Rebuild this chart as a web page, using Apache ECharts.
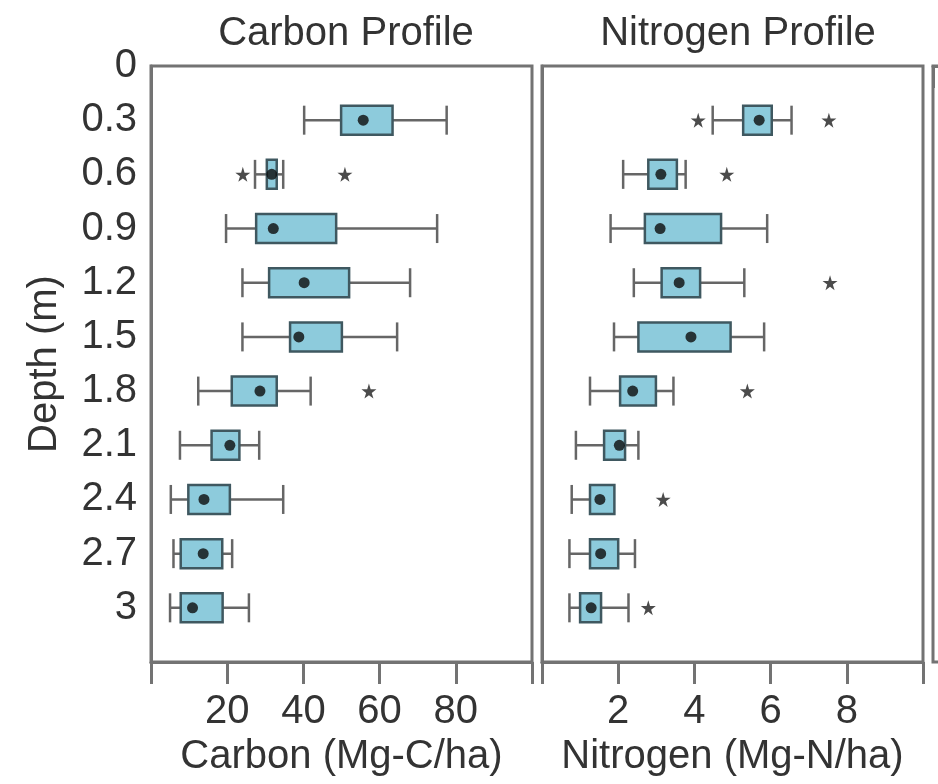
<!DOCTYPE html>
<html>
<head>
<meta charset="utf-8">
<script src="https://cdn.jsdelivr.net/npm/echarts@6/dist/echarts.min.js"></script>
<style>
html,body{margin:0;padding:0;background:#fff;}
#chart{width:938px;height:784px;}
</style>
</head>
<body>
<div id="chart"></div>
<script>
// ---- data ----
const depths = [0.3, 0.6, 0.9, 1.2, 1.5, 1.8, 2.1, 2.4, 2.7, 3.0];

const carbonLow  = [40.2, 27.3, 19.7, 24.0, 24.0, 12.4, 7.6, 5.2, 5.9, 5.0];
const carbonQ1   = [49.9, 30.4, 27.6, 31.0, 36.5, 21.2, 15.9, 9.8, 7.8, 7.8];
const carbonQ3   = [63.4, 33.0, 48.6, 52.0, 50.1, 33.0, 23.2, 20.7, 18.7, 18.8];
const carbonHigh = [77.6, 34.7, 75.1, 68.0, 64.6, 41.9, 28.4, 34.7, 21.3, 25.7];
const carbonDot  = [55.7, 31.7, 32.1, 40.2, 38.8, 28.6, 20.7, 13.9, 13.7, 10.9];
const carbonOutlierValue = [24.1, 50.9, 57.2];
const carbonOutlierDepth = [0.6, 0.6, 1.8];

const nitroLow  = [4.48, 2.13, 1.80, 2.41, 1.89, 1.26, 0.89, 0.78, 0.72, 0.72];
const nitroQ1   = [5.28, 2.79, 2.70, 3.14, 2.53, 2.05, 1.63, 1.26, 1.26, 1.00];
const nitroQ3   = [6.03, 3.54, 4.70, 4.15, 4.95, 2.99, 2.18, 1.90, 2.00, 1.55];
const nitroHigh = [6.55, 3.77, 5.91, 5.31, 5.83, 3.45, 2.53, 1.90, 2.44, 2.27];
const nitroDot  = [5.70, 3.12, 3.10, 3.60, 3.91, 2.38, 2.03, 1.52, 1.54, 1.29];
const nitroOutlierValue = [4.10, 7.53, 4.85, 7.56, 5.39, 3.18, 2.79];
const nitroOutlierDepth = [0.3, 0.3, 0.6, 1.2, 1.8, 2.4, 3.0];

const carbonTicks = ['20', '40', '60', '80'];
const nitroTicks = ['2', '4', '6', '8'];
const yLabels = ['0', '0.3', '0.6', '0.9', '1.2', '1.5', '1.8', '2.1', '2.4', '2.7', '3'];

// ---- styles ----
const FONT = "'Liberation Sans', Arial, Helvetica, sans-serif";
const TXT = '#333333';
const AX = '#737373';
const BOX_FILL = '#8dcbdc';
const BOX_LINE = '#3f5860';
const WHISK = '#666666';
const STAR = 'path://M50,0 L61,35 L98,35 L68,57 L79,91 L50,70 L21,91 L32,57 L2,35 L39,35 Z';

function boxData(lo, q1, q3, hi) {
  return depths.map((d, i) => [lo[i], q1[i], q3[i], hi[i], d]);
}
function pairs(vals, ds) {
  return vals.map((v, i) => [v, ds[i]]);
}

function renderBox(params, api) {
  const d = api.value(4);
  const pLo = api.coord([api.value(0), d]);
  const pQ1 = api.coord([api.value(1), d]);
  const pQ3 = api.coord([api.value(2), d]);
  const pHi = api.coord([api.value(3), d]);
  const hh = 14.5;
  const y = pLo[1];
  const lineStyle = {stroke: WHISK, lineWidth: 2.5, fill: null};
  const children = [
    {type: 'line', shape: {x1: pLo[0], y1: y, x2: pHi[0], y2: y}, style: lineStyle},
    {type: 'line', shape: {x1: pLo[0], y1: y - hh, x2: pLo[0], y2: y + hh}, style: lineStyle},
  ];
  if (pHi[0] - pQ3[0] > 1) {
    children.push({type: 'line', shape: {x1: pHi[0], y1: y - hh, x2: pHi[0], y2: y + hh}, style: lineStyle});
  }
  children.push({
    type: 'rect',
    shape: {x: pQ1[0], y: y - hh, width: pQ3[0] - pQ1[0], height: 2 * hh},
    style: {fill: BOX_FILL, stroke: BOX_LINE, lineWidth: 2.5}
  });
  return {type: 'group', children: children};
}

function xAxisFor(gridIndex, max, ticks) {
  return {
    type: 'value', gridIndex: gridIndex, min: 0, max: max, interval: max / 5,
    axisLine: {show: true, onZero: false, lineStyle: {color: AX, width: 3}},
    axisTick: {show: true, length: 22, lineStyle: {color: AX, width: 3}},
    axisLabel: {
      fontSize: 40, color: TXT, fontFamily: FONT, margin: 30,
      formatter: function (v) {
        const s = String(Math.round(v * 100) / 100);
        return ticks.indexOf(s) >= 0 ? s : '';
      }
    },
    splitLine: {show: false}
  };
}

function yAxisFor(gridIndex, showLabels) {
  return {
    type: 'value', gridIndex: gridIndex, min: 0, max: 3.3, interval: 0.3, inverse: true,
    name: showLabels ? 'Depth (m)' : '',
    nameLocation: 'middle', nameGap: 86,
    nameTextStyle: {fontSize: 40, color: TXT, fontFamily: FONT},
    axisLine: {show: true, lineStyle: {color: AX, width: 3}},
    axisTick: {show: false},
    axisLabel: {
      show: showLabels, fontSize: 40, color: TXT, fontFamily: FONT, margin: 14,
      formatter: function (v) {
        const s = String(Math.round(v * 10) / 10);
        return yLabels.indexOf(s) >= 0 ? s : '';
      }
    },
    splitLine: {show: false}
  };
}

const chart = echarts.init(document.getElementById('chart'), null, {renderer: 'canvas'});

const option = {
  backgroundColor: '#ffffff',
  animation: false,
  title: [
    {text: 'Carbon Profile', left: 341, top: 9, textAlign: 'center',
     textStyle: {fontSize: 40, fontWeight: 'normal', color: TXT, fontFamily: FONT}},
    {text: 'Nitrogen Profile', left: 733, top: 9, textAlign: 'center',
     textStyle: {fontSize: 40, fontWeight: 'normal', color: TXT, fontFamily: FONT}}
  ],
  grid: [
    {left: 151, top: 66, width: 381, height: 596, show: true, borderColor: AX, borderWidth: 3, backgroundColor: 'transparent'},
    {left: 542, top: 66, width: 381, height: 596, show: true, borderColor: AX, borderWidth: 3, backgroundColor: 'transparent'},
    {left: 933, top: 66, width: 80, height: 596, show: true, borderColor: AX, borderWidth: 3, backgroundColor: 'transparent'}
  ],
  xAxis: [
    Object.assign(xAxisFor(0, 100, carbonTicks), {name: 'Carbon (Mg-C/ha)', nameLocation: 'middle', nameGap: 72,
      nameTextStyle: {fontSize: 40, color: TXT, fontFamily: FONT}}),
    Object.assign(xAxisFor(1, 10, nitroTicks), {name: 'Nitrogen (Mg-N/ha)', nameLocation: 'middle', nameGap: 72,
      nameTextStyle: {fontSize: 40, color: TXT, fontFamily: FONT}}),
    {type: 'value', gridIndex: 2, min: 0, max: 10, interval: 10,
     axisLine: {show: true, lineStyle: {color: AX, width: 3}},
     axisTick: {show: true, length: 22, lineStyle: {color: AX, width: 3}},
     axisLabel: {show: false}, splitLine: {show: false}}
  ],
  yAxis: [
    yAxisFor(0, true),
    yAxisFor(1, false),
    {type: 'value', gridIndex: 2, min: 0, max: 3.3, inverse: true, show: false}
  ],
  series: [
    {type: 'custom', xAxisIndex: 0, yAxisIndex: 0, renderItem: renderBox, z: 2,
     encode: {x: [0, 1, 2, 3], y: 4}, data: boxData(carbonLow, carbonQ1, carbonQ3, carbonHigh)},
    {type: 'scatter', xAxisIndex: 0, yAxisIndex: 0, symbol: 'circle', symbolSize: 11, z: 3,
     itemStyle: {color: '#0d0d0d'}, data: pairs(carbonDot, depths)},
    {type: 'scatter', xAxisIndex: 0, yAxisIndex: 0, symbol: STAR, symbolSize: 15, z: 3,
     itemStyle: {color: '#1e1e1e'}, data: pairs(carbonOutlierValue, carbonOutlierDepth)},
    {type: 'custom', xAxisIndex: 1, yAxisIndex: 1, renderItem: renderBox, z: 2,
     encode: {x: [0, 1, 2, 3], y: 4}, data: boxData(nitroLow, nitroQ1, nitroQ3, nitroHigh)},
    {type: 'scatter', xAxisIndex: 1, yAxisIndex: 1, symbol: 'circle', symbolSize: 11, z: 3,
     itemStyle: {color: '#0d0d0d'}, data: pairs(nitroDot, depths)},
    {type: 'scatter', xAxisIndex: 1, yAxisIndex: 1, symbol: STAR, symbolSize: 15, z: 3,
     itemStyle: {color: '#1e1e1e'}, data: pairs(nitroOutlierValue, nitroOutlierDepth)}
  ]
};
chart.setOption(option);
</script>
</body>
</html>
